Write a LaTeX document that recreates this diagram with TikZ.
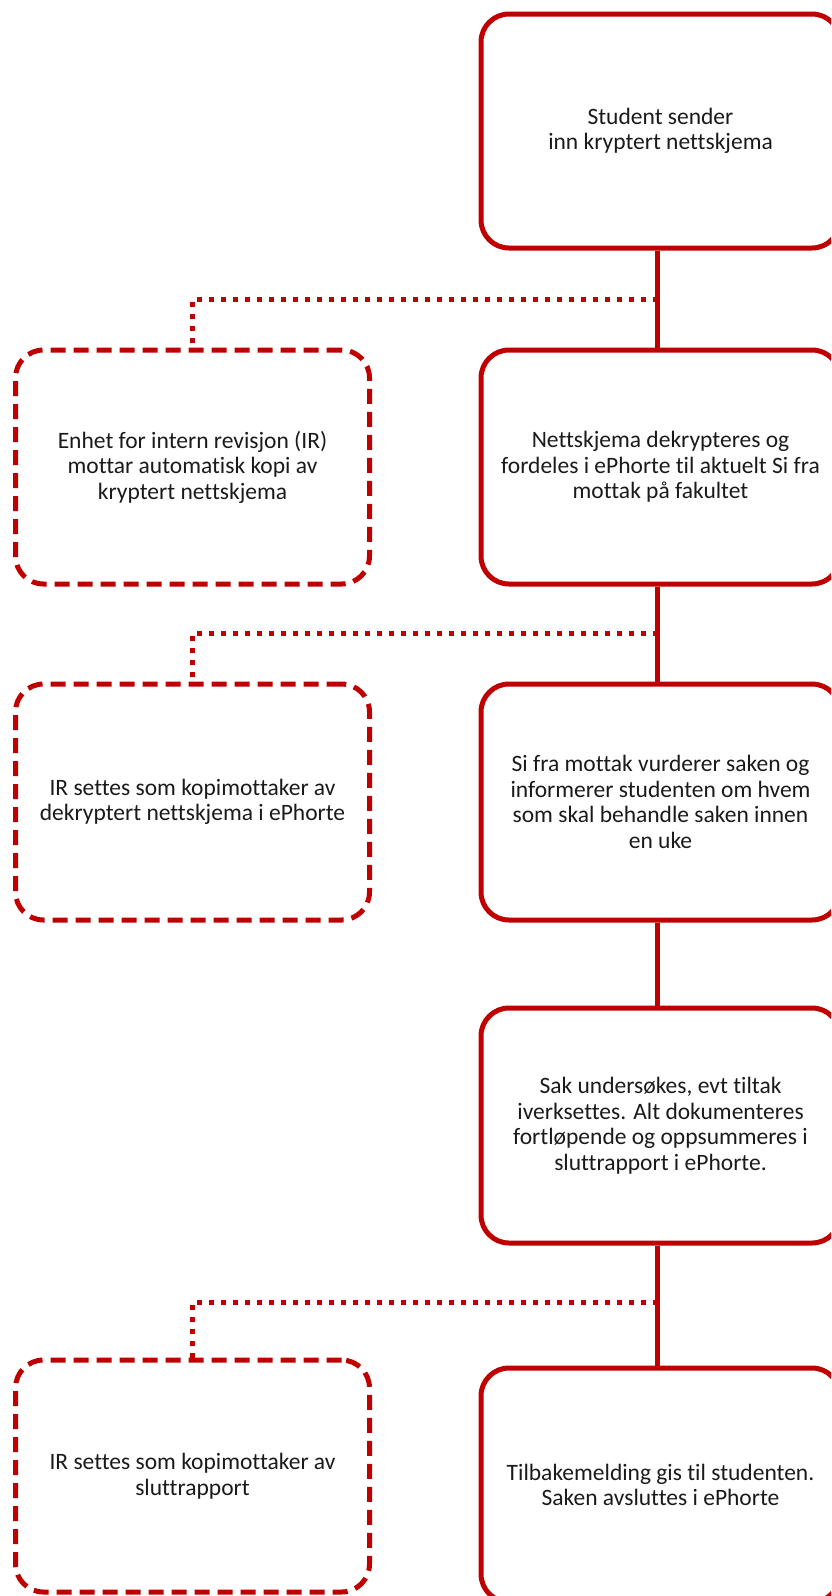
\documentclass[tikz,border=0pt]{standalone}
\usepackage{fontspec}
\setmainfont{Carlito}[Ligatures=CommonOff]
\definecolor{boxred}{HTML}{C00000}
\definecolor{txt}{HTML}{1A1A1A}
\begin{document}
\begin{tikzpicture}[x=1pt,y=-1pt,
  every node/.style={font=\fontsize{23.5}{25.5}\selectfont, text=txt, align=center},
  mainbox/.style={draw=boxred, line width=5pt, rounded corners=28pt, minimum width=359pt, minimum height=234pt, inner sep=0pt},
  sidebox/.style={draw=boxred, line width=5pt, rounded corners=28pt, minimum width=354pt, minimum height=234pt, inner sep=0pt, dash pattern=on 15pt off 8pt},
  solidlink/.style={draw=boxred, line width=5pt},
  dotlink/.style={draw=boxred, line width=5pt, dash pattern=on 5pt off 7pt}]
\useasboundingbox (0,0) rectangle (831,1596);
\begin{scope}
\clip (0,0) rectangle (831,1596);
% main column
\node[mainbox] (b1) at (660.5,131) {Student sender\\inn kryptert nettskjema};
\node[mainbox] (b2) at (660.5,467) {Nettskjema dekrypteres og\\fordeles i ePhorte til aktuelt Si fra\\mottak på fakultet};
\node[mainbox, minimum height=236pt] (b3) at (660.5,802) {Si fra mottak vurderer saken og\\informerer studenten om hvem\\som skal behandle saken innen\\en uke};
\node[mainbox, minimum height=235pt] (b4) at (660.5,1125.5) {Sak undersøkes, evt tiltak\\iverksettes. Alt dokumenteres\\fortløpende og oppsummeres i\\sluttrapport i ePhorte.};
\node[mainbox] (b5) at (660.5,1485) {Tilbakemelding gis til studenten.\\Saken avsluttes i ePhorte};
% side column
\node[sidebox] (a1) at (192.5,467) {Enhet for intern revisjon (IR)\\mottar automatisk kopi av\\kryptert nettskjema};
\node[sidebox, minimum height=236pt] (a2) at (192.5,802) {IR settes som kopimottaker av\\dekryptert nettskjema i ePhorte};
\node[sidebox, minimum height=232pt] (a3) at (192.5,1476) {IR settes som kopimottaker av\\sluttrapport};
% junctions
\coordinate (j1) at (657.5,299);
\coordinate (j2) at (657.5,633);
\coordinate (j3) at (657.5,1302);
% dotted links
\draw[dotlink] (j1) -| (a1.north);
\draw[dotlink] (j2) -| (a2.north);
\draw[dotlink] (j3) -| (a3.north);
% solid links
\draw[solidlink] ([xshift=-3pt]b1.south) -- ([xshift=-3pt]b2.north);
\draw[solidlink] ([xshift=-3pt]b2.south) -- ([xshift=-3pt]b3.north);
\draw[solidlink] ([xshift=-3pt]b3.south) -- ([xshift=-3pt]b4.north);
\draw[solidlink] ([xshift=-3pt]b4.south) -- ([xshift=-3pt]b5.north);
\end{scope}
\end{tikzpicture}
\end{document}
